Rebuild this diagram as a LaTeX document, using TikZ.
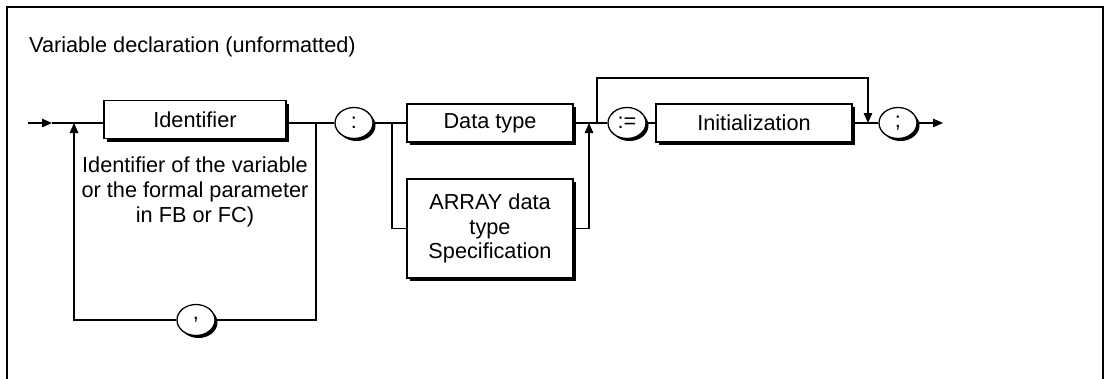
\documentclass[tikz,border=0pt]{standalone}
\usepackage{fontspec}
\setmainfont{Liberation Sans}
\usetikzlibrary{arrows.meta,shapes.geometric,shadows}
\begin{document}
\begin{tikzpicture}[x=1pt,y=-1pt,
  every node/.style={font=\fontsize{21.7}{24.7}\selectfont},
  conn/.style={line width=1.2pt},
  arr/.style={conn,-{Triangle[length=10pt,width=8.5pt]}},
  mybox/.style={draw,line width=1.3pt,fill=white,inner sep=0pt,align=center,
    drop shadow={shadow xshift=3pt,shadow yshift=-3pt,fill=black,opacity=1}},
  term/.style={ellipse,draw,line width=1.3pt,fill=white,inner sep=0pt,
    minimum width=38pt,minimum height=31pt,
    drop shadow={shadow xshift=2.5pt,shadow yshift=-2.5pt,fill=black,opacity=1}},
  txt/.style={inner sep=0pt,align=center}]
\useasboundingbox (0,0) rectangle (1104,378);
% frame (open at the bottom)
\draw[line width=1.5pt] (7,379) -- (7,7) -- (1103,7) -- (1103,379);
% title
\node[inner sep=0pt,anchor=base west] (title) at (29,52.7) {Variable declaration (unformatted)};
% boxes
\node[mybox,minimum width=182pt,minimum height=38pt] (ident) at (195,119.5) {Identifier};
\node[mybox,minimum width=166pt,minimum height=38pt] (dtype) at (490,123) {Data type};
\node[mybox,minimum width=166pt,minimum height=99pt] (array) at (490,228.5) {ARRAY data\\type\\Specification};
\node[mybox,minimum width=196pt,minimum height=38pt] (init) at (754,123) {Initialization};
% terminals
\node[term] (colon) at (354,123) {:};
\node[term] (comma) at (196,320) {,};
\node[term] (assign) at (627,123) {:=};
\node[term] (semi) at (898,123) {;};
% description
\node[txt] (desc) at (195,192) {Identifier of the variable\\or the formal parameter\\in FB or FC)};
% coordinates
\coordinate (start) at (28,123);
\coordinate (a1) at (52,123);
\coordinate (jl) at (74,123);
\coordinate (jr) at (316,123);
\coordinate (jrb) at (316,320);
\coordinate (jlb) at (74,320);
\coordinate (jd) at (392,123);
\coordinate (ja) at (589,123);
\coordinate (jb) at (597,123);
\coordinate (bt1) at (597,78);
\coordinate (bt2) at (868,78);
\coordinate (je) at (868,123);
\coordinate (stop) at (943,123);
% connectors
\draw[arr] (start) -- (a1);
\draw[conn] (a1) -- (ident.west |- a1);
\draw[conn] (ident.east |- jr) -- (jr) -- (colon.west);
\draw[conn] (jr) -- (jrb) -- (comma.east);
\draw[arr] (comma.west) -- (jlb) -- (jl);
\draw[conn] (colon.east) -- (jd) -- (dtype.west);
\draw[conn] (jd) |- (array.west);
\draw[conn] (dtype.east) -- (jb) -- (assign.west);
\draw[arr] (array.east) -| (ja);
\draw[arr] (jb) -- (bt1) -- (bt2) -- (je);
\draw[conn] (assign.east) -- (init.west);
\draw[conn] (init.east) -- (semi.west);
\draw[arr] (semi.east) -- (stop);
\end{tikzpicture}
\end{document}
